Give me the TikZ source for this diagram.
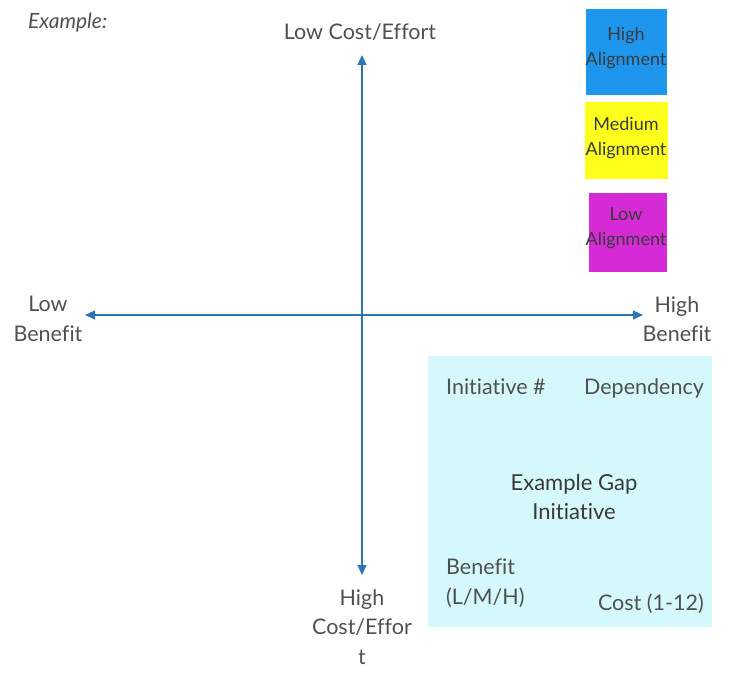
\documentclass[tikz,border=0pt]{standalone}
\usepackage{fontspec}
\setmainfont{Lato}[Ligatures=NoCommon]
\usetikzlibrary{arrows.meta}
\definecolor{axisblue}{HTML}{2E75B6}
\definecolor{txt}{HTML}{505050}
\definecolor{txtdark}{HTML}{3A3A3A}
\definecolor{stblue}{HTML}{1E96EE}
\definecolor{styellow}{HTML}{FFFF1E}
\definecolor{stmag}{HTML}{D62AD6}
\definecolor{stcyan}{HTML}{D5F8FC}
\tikzset{
  lbl/.style={text=txt, font=\fontsize{21.5}{29.5}\selectfont, align=center, inner sep=0pt},
  stxt/.style={text=txtdark, font=\fontsize{18}{25}\selectfont, align=center, inner sep=0pt},
  axis/.style={draw=axisblue, line width=1.1pt, {Triangle[width=9pt,length=10pt]}-{Triangle[width=9pt,length=10pt]}}
}
\begin{document}
\begin{tikzpicture}[x=1pt,y=-1pt]
\useasboundingbox (0,0) rectangle (730,687);
% stickies
\fill[stblue] (586,9) rectangle (667,95);
\fill[styellow] (585,102) rectangle (668,179);
\fill[stmag] (589,193) rectangle (667,272);
\fill[stcyan] (428,356) rectangle (712,627);
\node[stxt] (hi) at (626,48) {High\\Alignment};
\node[stxt] (med) at (626,138) {Medium\\Alignment};
\node[stxt] (lo) at (626,228) {Low\\Alignment};
% axes
\coordinate (top) at (362,55);
\coordinate (bot) at (362,575);
\coordinate (left) at (85,315);
\coordinate (right) at (643,315);
\draw[axis] (top) -- (bot);
\draw[axis] (left) -- (right);
% labels
\node[lbl, font=\itshape\fontsize{21}{24}\selectfont, anchor=west] (ex) at (28,23) {Example:};
\node[lbl] (lc) at (360,32) {Low Cost/Effort};
\node[lbl] (lb) at (48,319) {Low\\Benefit};
\node[lbl] (hb) at (677,319) {High\\Benefit};
\node[lbl] (hc) at (362,627) {High\\Cost/Effor\\t};
% big sticky texts
\node[lbl, anchor=west] (ini) at (446,387) {Initiative \#};
\node[lbl, anchor=east] (dep) at (704,388) {Dependency};
\node[lbl, text=txtdark, font=\fontsize{22}{29.5}\selectfont] (eg) at (574,497) {Example Gap\\Initiative};
\node[lbl, anchor=west, align=left] (ben) at (446,583) {Benefit\\(L/M/H)};
\node[lbl, anchor=east] (cost) at (704,604) {Cost (1-12)};
\end{tikzpicture}
\end{document}
